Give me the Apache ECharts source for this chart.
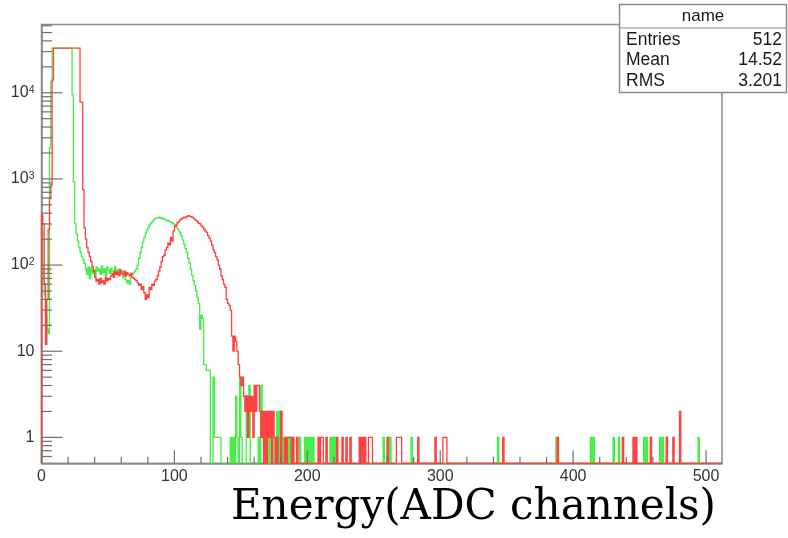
<!DOCTYPE html>
<html>
<head>
<meta charset="utf-8">
<title>Energy spectrum</title>
<script src="https://cdn.jsdelivr.net/npm/echarts@6/dist/echarts.min.js"></script>
<style>
  html, body { margin: 0; padding: 0; background: #ffffff; }
  #chart { width: 788px; height: 538px; }
</style>
</head>
<body>
<div id="chart"></div>
<script>
// Histogram: 512 channels, one count per channel, log-scale counts.
const NBINS = 512;
const Y_MIN = 0.5;
const Y_MAX = 62000;

// Green spectrum, channels 0..199
const greenHead = [
  250, 90, 45, 25, 18, 16, 2300, 13500,
  33000, 33000, 33000, 33000, 33000, 33000, 33000, 33000, 33000, 33000, 33000, 33000, 33000, 33000, 33000,
  9500, 920, 300, 230, 190, 160, 140, 125, 115, 105,
  90, 78, 95, 70, 92, 80, 88, 72, 95, 85,
  90, 78, 98, 82, 90, 75, 95, 88, 80, 92,
  85, 78, 95, 88, 82, 90, 78, 85, 72, 80,
  68, 62, 66, 60, 72, 78, 82, 85, 90, 100,
  120, 140, 160, 185, 210, 235, 255, 270, 290, 305,
  320, 335, 345, 350, 355, 360, 350, 355, 345, 340,
  335, 325, 330, 320, 315, 310, 300, 290, 280, 265,
  250, 235, 215, 195, 175, 155, 140, 120, 105, 90,
  76, 66, 58, 50, 42, 36, 18, 26, 24, 7,
  7, 6, 6, 6, 0, 0, 5, 1, 1, 1,
  1, 1, 0, 0, 0, 0, 0, 0, 0, 1,
  0, 1, 0, 3, 1, 0, 5, 1, 0, 0,
  0, 3, 1, 4, 0, 0, 0, 0, 0, 0,
  1, 0, 4, 1, 2, 2, 0, 0, 1, 0,
  0, 0, 1, 0, 2, 0, 2, 0, 0, 1,
  0, 1, 1, 0, 1, 0, 0, 0, 0, 0,
  0, 1, 0, 0, 0, 1, 0
];
// Green spectrum, single-count channels from 200 up
const greenTail = [200, 202, 204, 217, 219, 221, 257, 262, 278, 343, 387, 413, 415, 430, 434, 453, 455, 465, 467, 494];

// Red spectrum, channels 0..199
const redHead = [
  380, 300, 60, 12, 40, 260, 600, 850, 14000,
  33000, 33000, 33000, 33000, 33000, 33000, 33000, 33000, 33000, 33000,
  33000, 33000, 33000, 33000, 33000, 33000, 33000, 33000, 33000, 33000,
  7800, 7800, 750, 270, 200, 160, 140, 125, 110, 95,
  85, 72, 65, 68, 60, 70, 62, 66, 60, 72,
  65, 70, 68, 75, 80, 72, 85, 78, 82, 75,
  88, 80, 78, 85, 75, 82, 78, 75, 80, 72,
  70, 68, 66, 62, 58, 60, 52, 56, 48, 40,
  45, 42, 55, 52, 60, 58, 65, 68, 75, 85,
  95, 110, 125, 130, 150, 160, 180, 170, 210, 190,
  250, 280, 290, 310, 320, 335, 345, 350, 360, 355,
  365, 375, 370, 365, 360, 350, 340, 330, 320, 305,
  300, 285, 275, 260, 250, 240, 220, 205, 190, 170,
  150, 140, 125, 115, 100, 90, 75, 68, 60, 55,
  40, 36, 34, 30, 15, 10, 15, 13, 10, 7,
  5, 4, 5, 3, 2, 3, 1, 3, 2, 3,
  1, 4, 2, 4, 4, 2, 1, 2, 0, 2,
  0, 2, 1, 2, 0, 2, 1, 0, 1, 0,
  0, 2, 0, 0, 1, 0, 1, 1, 1, 0,
  1, 0, 0, 1, 0, 0, 0, 0, 0, 0, 0
];
// Red spectrum, channels from 200 up
const redTail = [208, 210, 211, 214, 222, 226, 229, 232, 239, 241, 243, 246, 247, 248, 260, 267, 268, 269, 270, 283, 296, 302, 303, 304, 347, 388, 437, 445, 447, 458, 470, 475];
const redTailDouble = [480];

// Axis ticks and stats box contents
const xMajorTicks = [0, 100, 200, 300, 400, 500];
const xMinorStep = 20;
const yDecadeTicks = [1, 10, 100, 1000, 10000];
const statsTitle = 'name';
const statsRows = [['Entries', '512'], ['Mean', '14.52'], ['RMS', '3.201']];
const xTitle = 'Energy(ADC channels)';

function buildCounts(head, singles, doubles) {
  const counts = new Array(NBINS).fill(0);
  head.forEach(function (v, i) { counts[i] = v; });
  singles.forEach(function (b) { counts[b] = 1; });
  (doubles || []).forEach(function (b) { counts[b] = 2; });
  return counts;
}
const greenCounts = buildCounts(greenHead, greenTail);
const redCounts = buildCounts(redHead, redTail, redTailDouble);

// Minor ticks: every 20 channels, and 2..9 within each decade
const xMinorTicks = [];
for (let v = 0; v < 500; v += xMinorStep) if (v % 100 !== 0) xMinorTicks.push(v);
const yMinorTicks = [];
for (let e = -1; e <= 4; e++) {
  for (let m = 2; m <= 9; m++) {
    const v = m * Math.pow(10, e);
    if (v > Y_MIN && v < Y_MAX) yMinorTicks.push(v);
  }
}

const AXIS_GRAY = '#8a8a8a';
const TICK_GRAY = '#707070';
const LABEL_GRAY = '#333333';
const SANS = 'Liberation Sans, Arial, Helvetica, sans-serif';

function histogramSeries(name, counts, color, z) {
  return {
    type: 'custom',
    name: name,
    z: z,
    silent: true,
    coordinateSystem: 'cartesian2d',
    data: [[0, 1]],
    renderItem: function (params, api) {
      const pts = [api.coord([0, Y_MIN])];
      for (let b = 0; b < counts.length; b++) {
        const v = counts[b] > Y_MIN ? counts[b] : Y_MIN;
        pts.push(api.coord([b, v]), api.coord([b + 1, v]));
      }
      pts.push(api.coord([counts.length, Y_MIN]));
      return {
        type: 'polyline',
        shape: { points: pts },
        style: { stroke: color, lineWidth: 1.3, fill: null }
      };
    }
  };
}

function tickSeries() {
  return {
    type: 'custom',
    name: 'ticks',
    z: 5,
    silent: true,
    coordinateSystem: 'cartesian2d',
    data: [[0, 1]],
    renderItem: function (params, api) {
      const origin = api.coord([0, Y_MIN]);
      const left = origin[0], bottom = origin[1];
      const kids = [];
      function seg(x1, y1, x2, y2) {
        kids.push({ type: 'line', shape: { x1: x1, y1: y1, x2: x2, y2: y2 },
          style: { stroke: TICK_GRAY, lineWidth: 1.2 } });
      }
      xMajorTicks.forEach(function (v) { const x = api.coord([v, Y_MIN])[0]; seg(x, bottom, x, bottom - 13); });
      xMinorTicks.forEach(function (v) { const x = api.coord([v, Y_MIN])[0]; seg(x, bottom, x, bottom - 6.5); });
      yDecadeTicks.forEach(function (v) { const y = api.coord([0, v])[1]; seg(left, y, left + 21, y); });
      yMinorTicks.forEach(function (v) { const y = api.coord([0, v])[1]; seg(left, y, left + 10.5, y); });
      return { type: 'group', children: kids };
    }
  };
}

const chart = echarts.init(document.getElementById('chart'), null, { renderer: 'canvas' });

const statsGraphics = [
  { type: 'rect', z: 100, shape: { x: 619.5, y: 4.5, width: 167, height: 88 },
    style: { fill: '#ffffff', stroke: AXIS_GRAY, lineWidth: 1.5 } },
  { type: 'line', z: 101, shape: { x1: 619.5, y1: 28, x2: 786.5, y2: 28 },
    style: { stroke: AXIS_GRAY, lineWidth: 1.2 } },
  { type: 'text', z: 102, x: 703, y: 16,
    style: { text: statsTitle, fill: '#1a1a1a', font: '17px ' + SANS, align: 'center', verticalAlign: 'middle' } }
];
statsRows.forEach(function (row, i) {
  const y = 40 + i * 20.5;
  statsGraphics.push({ type: 'text', z: 102, x: 626, y: y,
    style: { text: row[0], fill: '#1a1a1a', font: '17.5px ' + SANS, align: 'left', verticalAlign: 'middle' } });
  statsGraphics.push({ type: 'text', z: 102, x: 782, y: y,
    style: { text: row[1], fill: '#1a1a1a', font: '17.5px ' + SANS, align: 'right', verticalAlign: 'middle' } });
});

chart.setOption({
  animation: false,
  backgroundColor: '#ffffff',
  grid: {
    left: 41.5, top: 24.5, width: 680.5, height: 438.8,
    show: true, borderColor: AXIS_GRAY, borderWidth: 1.5, backgroundColor: 'transparent'
  },
  xAxis: {
    type: 'value', min: 0, max: NBINS, interval: 100, z: 3,
    axisLine: { show: true, lineStyle: { color: AXIS_GRAY, width: 1.5 } },
    axisTick: { show: false },
    splitLine: { show: false },
    axisLabel: {
      show: true, margin: 5, fontSize: 16, color: LABEL_GRAY, fontFamily: SANS,
      showMaxLabel: false,
      formatter: function (v) { return v % 100 === 0 ? String(v) : ''; }
    }
  },
  yAxis: {
    type: 'log', logBase: 10, min: Y_MIN, max: Y_MAX, z: 3,
    axisLine: { show: true, lineStyle: { color: AXIS_GRAY, width: 1.5 } },
    axisTick: { show: false },
    splitLine: { show: false },
    axisLabel: {
      show: true, margin: 7, fontSize: 16, color: LABEL_GRAY, fontFamily: SANS,
      showMinLabel: false, showMaxLabel: false,
      formatter: function (v) {
        const e = Math.round(Math.log10(v));
        if (Math.abs(v - Math.pow(10, e)) > 1e-6 * v) return '';
        if (e === 0) return '1';
        if (e === 1) return '10';
        return '10{sup|' + e + '}';
      },
      rich: {
        sup: { fontSize: 10.5, color: LABEL_GRAY, fontFamily: SANS, verticalAlign: 'top', padding: [0, 0, 6, 0] }
      }
    }
  },
  series: [
    histogramSeries('green', greenCounts, '#45ee45', 2),
    histogramSeries('red', redCounts, '#ff4040', 4),
    tickSeries()
  ],
  graphic: statsGraphics.concat([
    { type: 'text', z: 50, x: 716, y: 508,
      style: { text: xTitle, fill: '#000000', font: '42px "DejaVu Serif", serif', align: 'right', verticalAlign: 'middle' } }
  ])
});
</script>
</body>
</html>
